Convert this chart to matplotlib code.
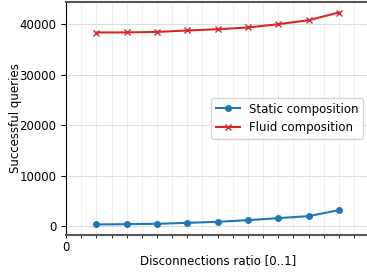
import numpy as np
import matplotlib.pyplot as plt
from matplotlib.ticker import MultipleLocator, FixedLocator

ratios = [0.1, 0.2, 0.3, 0.4, 0.5, 0.6, 0.7, 0.8, 0.9]
static_q = [400, 460, 530, 720, 920, 1250, 1650, 2040, 3230]
fluid_q = [38300, 38320, 38420, 38700, 38950, 39290, 39940, 40730, 42250]

fig = plt.figure(figsize=(3.67, 2.73), dpi=100)
ax = fig.add_axes([0.18, 0.139, 0.826, 0.854])

ax.plot(ratios, static_q, color="#1f77b4", marker="o", markersize=4, label="Static composition")
ax.plot(ratios, fluid_q, color="#d62728", marker="x", markersize=4, label="Fluid composition")

ax.set_xlim(0, 1)
ax.xaxis.set_major_locator(FixedLocator([0]))
ax.xaxis.set_minor_locator(MultipleLocator(0.05))
ax.grid(True, which="major", color="#dddddd", linewidth=0.8)
ax.grid(True, which="minor", axis="x", color="#eeeeee", linewidth=0.6)
ax.set_axisbelow(True)
for s in ["top", "bottom"]:
    ax.spines[s].set_color("#555555")
    ax.spines[s].set_linewidth(1.5)
ax.tick_params(axis="x", which="minor", length=2)
ax.tick_params(axis="x", which="major", length=2, pad=2)

ax.set_xlabel("Disconnections ratio [0..1]", fontsize=8.5, labelpad=0)
ax.set_ylabel("Successful queries", fontsize=8.5, labelpad=-2)
ax.tick_params(labelsize=8.5)
ax.legend(loc="center right", fontsize=8.5)

fig.savefig("out.png", dpi=100)
